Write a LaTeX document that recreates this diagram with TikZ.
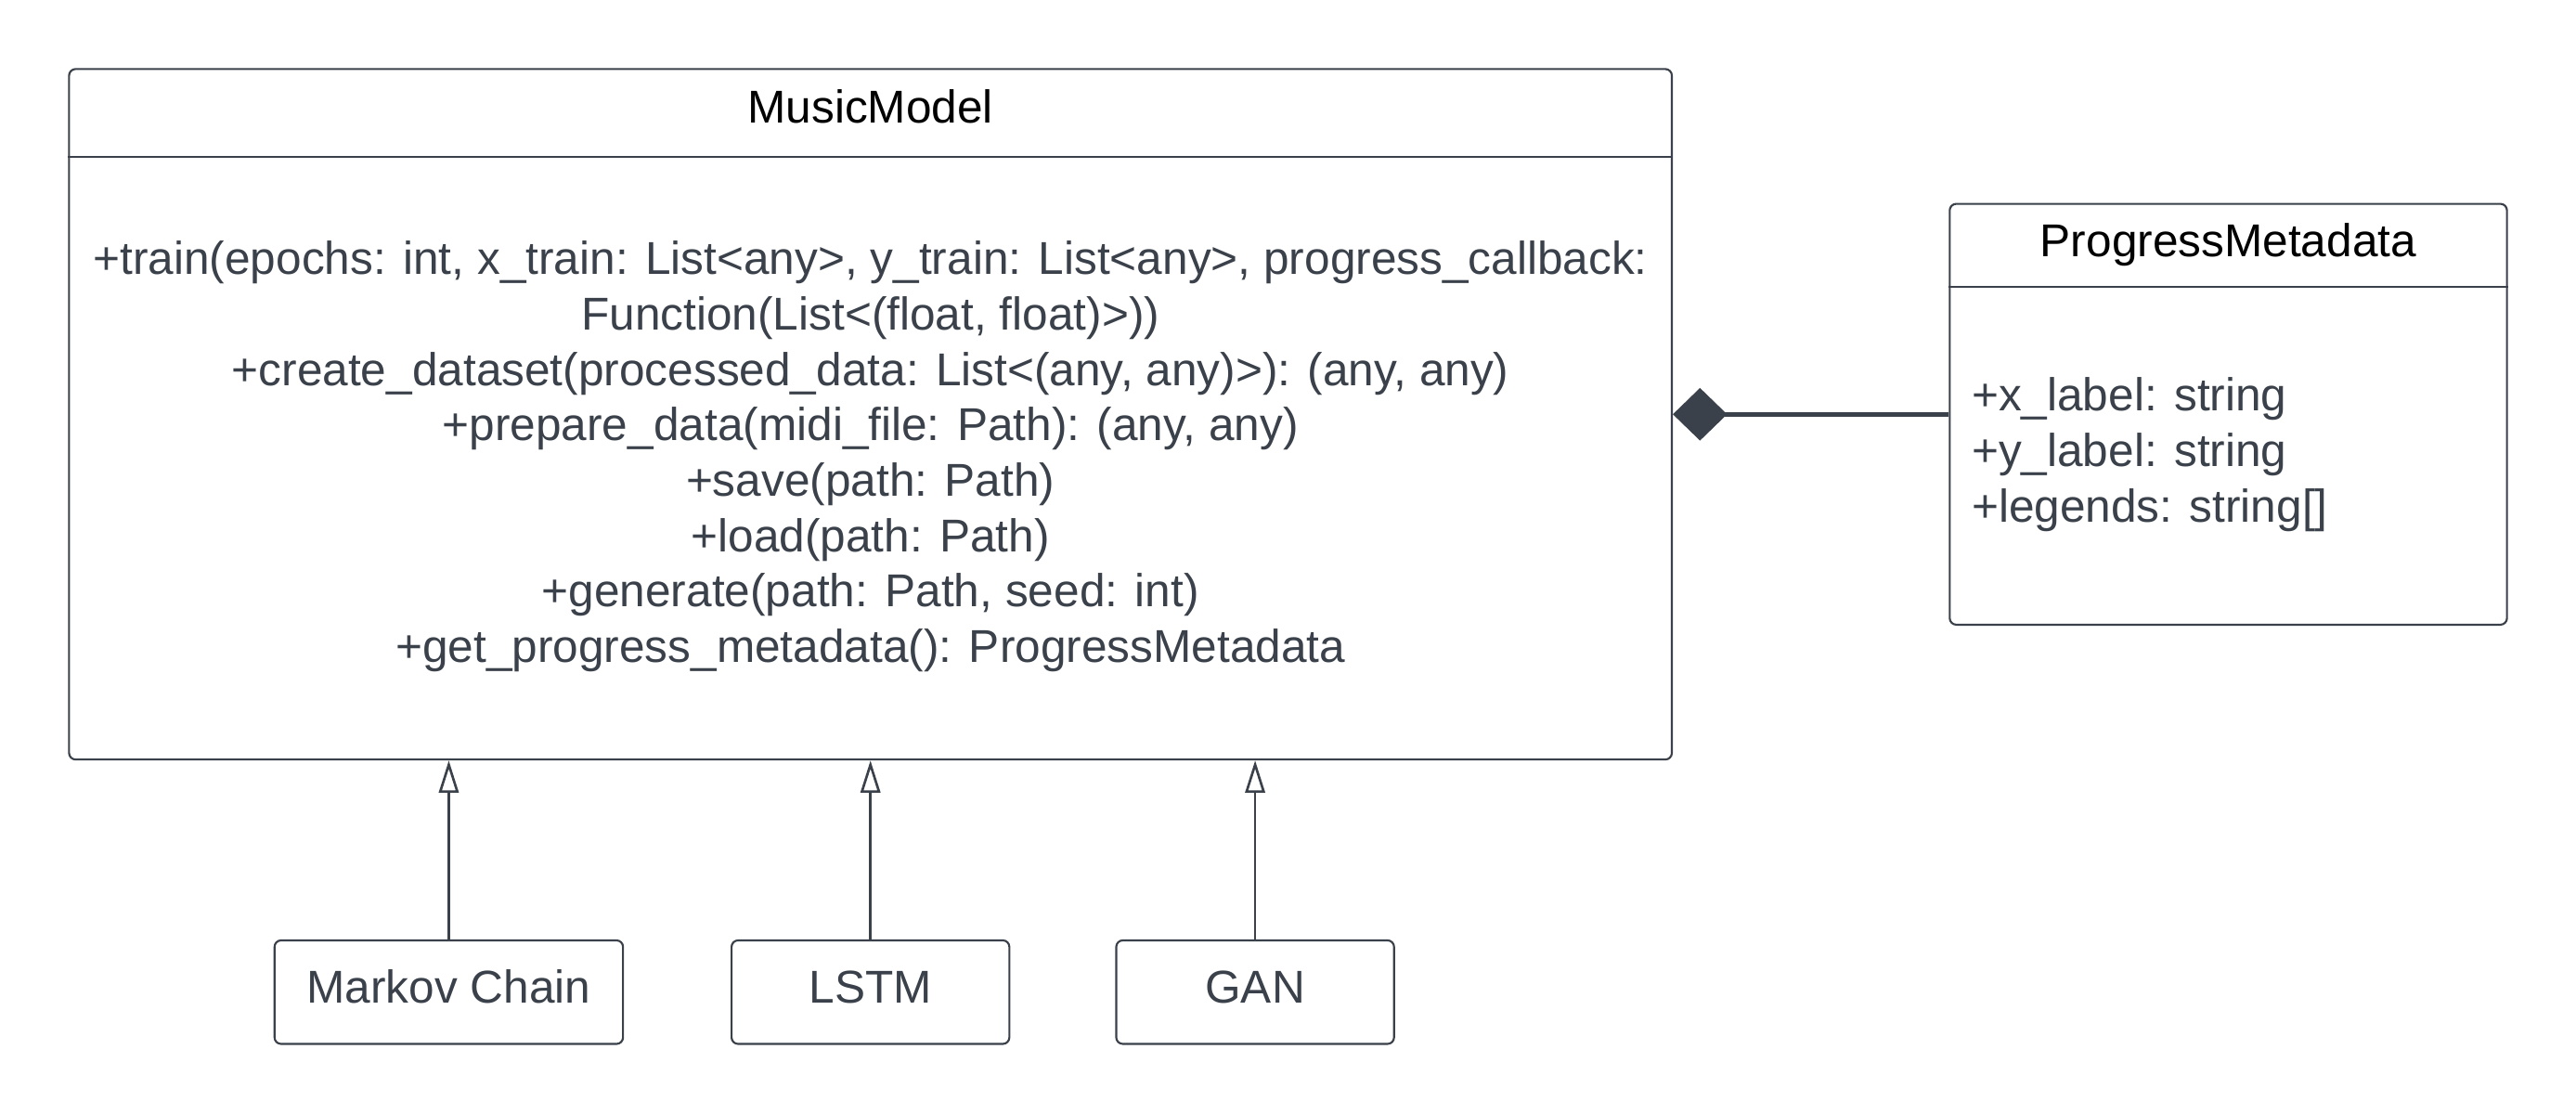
\documentclass[tikz,border=0pt]{standalone}
\usepackage{fontspec}
\setmainfont{Liberation Sans}
\usetikzlibrary{arrows.meta}
\definecolor{ink}{HTML}{3A414A}

\tikzset{
style1/.style= {rectangle, rounded corners=2pt, draw=ink, line width=0.6pt, fill=white, inner sep=0pt},
style2/.style= {text=black, inner sep=0pt, font=\fontsize{14}{16.85}\selectfont},
style3/.style= {text=ink, inner sep=0pt, font=\fontsize{14}{16.85}\selectfont},
style4/.style= {style1, style3, minimum height=31.5pt, minimum width=84.5pt, text height=10pt, text depth=3.5pt}
}

\begin{document}
\begin{tikzpicture}[x=0.5pt,y=-0.5pt]
\useasboundingbox (0,0) rectangle (1567,677.5);

% the two classes
\node[style1, minimum width=487.5pt, minimum height=210pt] (m) at (529.5,252) {};
\draw[ink, line width=0.5pt] ([yshift=-27pt]m.north west) -- ([yshift=-27pt]m.north east);
\node[style2, anchor=base] (mt) at (529.5,75) {MusicModel};
\node[style3, align=center] (mb) at (529.5,277.7) {+train(epochs: int, x\_train: List<any>, y\_train: List<any>, progress\_callback:\\
Function(List<(float, float)>))\\
+create\_dataset(processed\_data: List<(any, any)>): (any, any)\\
+prepare\_data(midi\_file: Path): (any, any)\\
+save(path: Path)\\
+load(path: Path)\\
+generate(path: Path, seed: int)\\
+get\_progress\_metadata(): ProgressMetadata};

\node[style1, minimum width=169.5pt, minimum height=128pt] (p) at (1355.5,252) {};
\draw[ink, line width=0.5pt] ([yshift=-25.5pt]p.north west) -- ([yshift=-25.5pt]p.north east);
\node[style2, anchor=base] (pt) at (1355.5,156) {ProgressMetadata};
\node[style3, align=left, anchor=west] (pb) at (1199,276.6) {+x\_label: string\\
+y\_label: string\\
+legends: string[]};

% the subclasses
\node[style4, minimum width=106pt] (c1) at (273,603.5) {Markov Chain};
\node[style4] (c2) at (529.5,603.5) {LSTM};
\node[style4] (c3) at (763.5,603.5) {GAN};

% composition
\draw[ink, line width=1.4pt, {Diamond[length=16.5pt,width=16pt]}-] (m.east) -- (p.west);

% inheritance
\foreach \value in {1,2,3}
  \draw[ink, line width=0.75pt, -{Triangle[open,length=9.8pt,width=6pt]}] (c\value.north) -- (c\value.north |- m.south);
\end{tikzpicture}
\end{document}
